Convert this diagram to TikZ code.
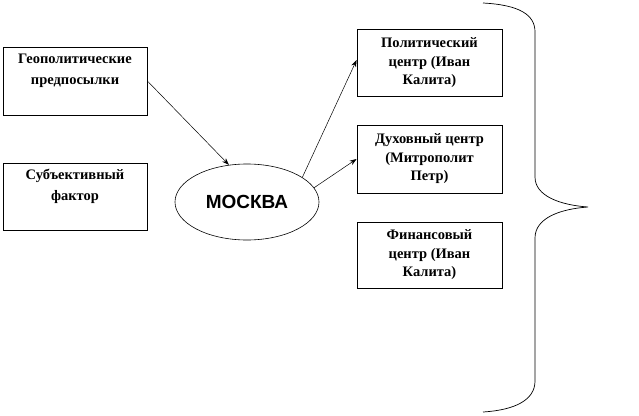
\documentclass[tikz,border=0pt]{standalone}
\usepackage{fontspec}
\setmainfont{Liberation Serif}
\newfontfamily\arialfont{Liberation Sans}
\usetikzlibrary{shapes.geometric,arrows.meta}
\tikzset{
  box/.style={draw=black, line width=0.8pt, fill=white, align=center,
    minimum width=144pt, minimum height=68pt, inner sep=2pt,
    font=\fontsize{14.5pt}{20.5pt}\selectfont\bfseries},
  rbox/.style={box, minimum width=145pt, minimum height=67pt, font=\fontsize{14.5pt}{18.5pt}\selectfont\bfseries},
  city/.style={draw=black, line width=0.6pt, ellipse, minimum width=144pt, minimum height=76pt,
    inner sep=0pt, font=\arialfont\fontsize{19pt}{21pt}\selectfont\bfseries},
  link/.style={draw=black, line width=0.5pt, -{Stealth[length=7pt,width=5pt]}},
  bracestyle/.style={draw=black, line width=0.7pt}
}
\begin{document}
\begin{tikzpicture}[x=1pt,y=-1pt]
\useasboundingbox (0,0) rectangle (639,415);
\node[box] (g) at (75,81) {Геополитические\\предпосылки\\[3pt]};
\node[box, minimum height=67pt] (s) at (75,196.5) {Субъективный\\фактор\\[3pt]};
\node[city] (m) at (247,202) {МОСКВА};
\node[rbox] (a) at (429.5,63) {Политический\\центр (Иван\\Калита)};
\node[rbox, minimum height=68pt] (b) at (429.5,159) {Духовный центр\\(Митрополит\\Петр)};
\node[rbox, minimum height=66pt] (c) at (429.5,255) {Финансовый\\центр (Иван\\Калита)};
\draw[link] (g.east) -- (m.116);
\draw[link] (m.24) -- ([yshift=3pt]a.west);
\draw[link] (m.12) -- (b.west);
\draw[bracestyle] (483,3) .. controls (520,5) and (535,15) .. (535,32) -- (535,177)
  .. controls (535,196) and (560,205) .. (588,207)
  .. controls (560,209) and (535,218) .. (535,238) -- (535,381)
  .. controls (535,400) and (515,410) .. (483,412);
\end{tikzpicture}
\end{document}
